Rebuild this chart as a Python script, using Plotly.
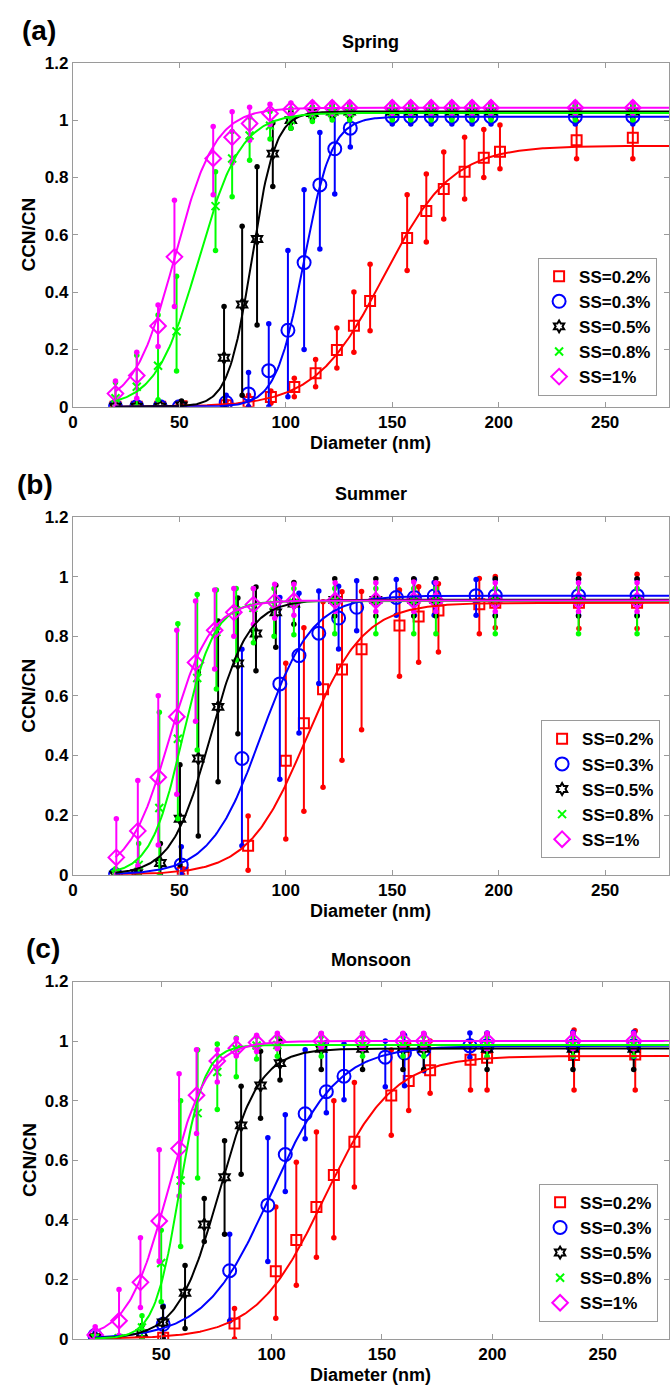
import numpy as np
import plotly.graph_objects as go

W, H = 670, 1391

# ---------------- Spring: diameter (nm), CCN/CN, error-bar low / high ----------------
SPR_D_02 = [20, 30, 41, 51, 72, 82.5, 93, 104, 114, 124, 132, 139.6, 157, 166, 174.2, 184, 193, 200.6, 236.6, 263]
SPR_F_02 = [0, 0, 0, 0.002, 0.005, 0.017, 0.034, 0.069, 0.117, 0.198, 0.283, 0.369, 0.589, 0.683, 0.76, 0.82, 0.869, 0.89, 0.93, 0.938]
SPR_LO_02 = [0, 0, 0, 0, 0, 0, 0.012, 0.035, 0.07, 0.135, 0.19, 0.265, 0.475, 0.575, 0.655, 0.725, 0.80, 0.83, 0.865, 0.865]
SPR_HI_02 = [0, 0, 0, 0.005, 0.02, 0.04, 0.055, 0.10, 0.165, 0.275, 0.40, 0.497, 0.74, 0.812, 0.889, 0.94, 0.967, 0.983, 0.995, 1.0]

SPR_D_03 = [20, 30, 41, 50, 72, 82.5, 92, 101, 108.6, 116, 123, 130.3, 150, 158.7, 168.3, 178, 187.5, 196.4, 236, 263]
SPR_F_03 = [0, 0, 0, 0, 0.015, 0.045, 0.126, 0.267, 0.503, 0.774, 0.9, 0.972, 1.012, 1.012, 1.012, 1.012, 1.012, 1.012, 1.012, 1.012]
SPR_LO_03 = [0, 0, 0, 0, 0, 0, 0, 0.035, 0.2, 0.55, 0.742, 0.906, 0.986, 0.986, 0.986, 0.986, 0.986, 0.986, 0.986, 0.986]
SPR_HI_03 = [0, 0, 0, 0, 0.04, 0.12, 0.29, 0.545, 0.757, 0.957, 1.026, 1.03, 1.036, 1.036, 1.036, 1.036, 1.036, 1.036, 1.036, 1.036]

SPR_D_05 = [20, 30, 41, 51, 71, 79.5, 86.5, 93.9, 102.4, 112.5, 121.8, 130, 150, 158.7, 168.3, 178, 187.5, 196.4, 236, 263]
SPR_F_05 = [0, 0, 0, 0.005, 0.171, 0.357, 0.585, 0.883, 1.0, 1.025, 1.03, 1.03, 1.03, 1.03, 1.03, 1.03, 1.03, 1.03, 1.03, 1.03]
SPR_LO_05 = [0, 0, 0, 0, 0, 0.04, 0.285, 0.768, 0.972, 1.0, 1.008, 1.008, 1.008, 1.008, 1.008, 1.008, 1.008, 1.008, 1.008, 1.008]
SPR_HI_05 = [0, 0, 0, 0.02, 0.35, 0.63, 0.837, 0.99, 1.03, 1.045, 1.05, 1.05, 1.05, 1.05, 1.05, 1.05, 1.05, 1.05, 1.05, 1.05]

SPR_D_08 = [20, 30, 40, 48.7, 67, 74.8, 83, 92.6, 102.4, 112.5, 121.8, 130, 150, 158.7, 168.3, 178, 187.5, 196.4, 236, 263]
SPR_F_08 = [0.03, 0.07, 0.143, 0.263, 0.70, 0.866, 0.946, 0.98, 1.0, 1.02, 1.025, 1.025, 1.025, 1.025, 1.025, 1.025, 1.025, 1.025, 1.025, 1.025]
SPR_LO_08 = [0, 0, 0.025, 0.125, 0.545, 0.733, 0.86, 0.934, 0.972, 0.995, 1.0, 1.0, 1.0, 1.0, 1.0, 1.0, 1.0, 1.0, 1.0, 1.0]
SPR_HI_08 = [0.085, 0.18, 0.32, 0.455, 0.82, 0.96, 1.01, 1.03, 1.04, 1.045, 1.05, 1.05, 1.05, 1.05, 1.05, 1.05, 1.05, 1.05, 1.05, 1.05]

SPR_D_10 = [20, 30, 40, 47.7, 65.9, 74.8, 83, 92.6, 102.4, 112.5, 121.8, 130, 150, 158.7, 168.3, 178, 187.5, 196.4, 236, 263]
SPR_F_10 = [0.046, 0.109, 0.282, 0.523, 0.866, 0.94, 0.988, 1.023, 1.037, 1.043, 1.043, 1.043, 1.043, 1.043, 1.043, 1.043, 1.043, 1.043, 1.043, 1.043]
SPR_LO_10 = [0, 0.03, 0.21, 0.35, 0.74, 0.85, 0.93, 0.985, 1.02, 1.026, 1.026, 1.026, 1.026, 1.026, 1.026, 1.026, 1.026, 1.026, 1.026, 1.026]
SPR_HI_10 = [0.09, 0.19, 0.355, 0.72, 0.978, 1.029, 1.045, 1.055, 1.06, 1.061, 1.061, 1.061, 1.061, 1.061, 1.061, 1.061, 1.061, 1.061, 1.061, 1.061]

# sigmoid fit: plateau, D50 (nm), width (nm) for SS = 0.2, 0.3, 0.5, 0.8, 1 %
SPR_PLATEAU = [0.91, 1.012, 1.03, 1.025, 1.043]
SPR_D50 = [146, 108.5, 84, 59, 47.8]
SPR_WIDTH = [16, 6.5, 5.5, 10, 9.5]

# ---------------- Summer ----------------
SUM_D_02 = [51.6, 82.3, 100, 108.5, 117.5, 126.4, 135.6, 153.4, 162.4, 171.7, 190.9, 198.4, 237.7, 265]
SUM_F_02 = [0.007, 0.097, 0.382, 0.508, 0.622, 0.688, 0.756, 0.836, 0.866, 0.886, 0.907, 0.912, 0.912, 0.912]
SUM_LO_02 = [0, 0.015, 0.12, 0.213, 0.293, 0.384, 0.486, 0.666, 0.713, 0.747, 0.808, 0.828, 0.826, 0.826]
SUM_HI_02 = [0.02, 0.197, 0.709, 0.828, 0.916, 0.949, 0.95, 0.955, 0.966, 0.976, 0.994, 1.0, 1.008, 1.008]

SUM_D_03 = [20, 50.9, 79.4, 97.2, 106.2, 115.5, 124.8, 133.3, 151.9, 160.4, 169.7, 189.4, 198.4, 237.5, 265]
SUM_F_03 = [0, 0.033, 0.39, 0.64, 0.735, 0.81, 0.861, 0.897, 0.93, 0.93, 0.935, 0.936, 0.936, 0.936, 0.936]
SUM_LO_03 = [0, 0, 0.097, 0.32, 0.475, 0.641, 0.757, 0.818, 0.87, 0.87, 0.87, 0.87, 0.87, 0.87, 0.87]
SUM_HI_03 = [0, 0.094, 0.756, 0.93, 0.944, 0.952, 0.968, 0.986, 0.99, 0.99, 0.98, 0.99, 0.99, 0.99, 0.99]

SUM_D_05 = [20, 30, 41.1, 50.3, 58.9, 68.2, 77.5, 86.0, 95.3, 103.8, 123, 142.3, 160.1, 170.5, 198.4, 237.5, 265]
SUM_F_05 = [0, 0.005, 0.039, 0.188, 0.39, 0.563, 0.709, 0.809, 0.88, 0.91, 0.922, 0.922, 0.922, 0.922, 0.922, 0.922, 0.922]
SUM_LO_05 = [0, 0, 0, 0.033, 0.13, 0.312, 0.473, 0.684, 0.763, 0.84, 0.868, 0.868, 0.868, 0.868, 0.868, 0.868, 0.868]
SUM_HI_05 = [0, 0.01, 0.105, 0.369, 0.68, 0.851, 0.928, 0.965, 0.971, 0.98, 0.993, 0.993, 0.993, 0.993, 0.993, 0.993, 0.993]

SUM_D_08 = [20, 30.9, 40.6, 49.3, 58.4, 67.4, 76.7, 84.8, 94.5, 103.8, 123, 142.3, 160.1, 170.5, 198.4, 237.5, 265]
SUM_F_08 = [0.002, 0.033, 0.224, 0.456, 0.66, 0.814, 0.886, 0.895, 0.905, 0.912, 0.918, 0.918, 0.918, 0.918, 0.918, 0.918, 0.918]
SUM_LO_08 = [0, 0, 0, 0.188, 0.418, 0.623, 0.72, 0.778, 0.80, 0.805, 0.808, 0.808, 0.808, 0.808, 0.808, 0.808, 0.808]
SUM_HI_08 = [0.02, 0.105, 0.545, 0.842, 0.94, 0.955, 0.96, 0.96, 0.96, 0.96, 0.96, 0.96, 0.96, 0.96, 0.96, 0.96, 0.96]

SUM_D_10 = [20.4, 30.5, 40.1, 48.8, 57.6, 66.6, 75.6, 84.8, 94.8, 103.8, 123.2, 142.3, 160.1, 170.5, 198.4, 237.5, 265]
SUM_F_10 = [0.058, 0.147, 0.327, 0.53, 0.712, 0.82, 0.88, 0.906, 0.916, 0.918, 0.92, 0.92, 0.92, 0.92, 0.92, 0.92, 0.92]
SUM_LO_10 = [0, 0.03, 0.10, 0.27, 0.515, 0.69, 0.80, 0.84, 0.86, 0.87, 0.883, 0.883, 0.883, 0.883, 0.883, 0.883, 0.883]
SUM_HI_10 = [0.188, 0.316, 0.60, 0.82, 0.918, 0.955, 0.96, 0.96, 0.974, 0.974, 0.979, 0.979, 0.982, 0.979, 0.979, 0.979, 0.979]

SUM_PLATEAU = [0.912, 0.936, 0.922, 0.918, 0.92]
SUM_D50 = [109.5, 88.5, 64.5, 51.5, 45.5]
SUM_WIDTH = [13.5, 12, 9, 7.5, 9.5]

# ---------------- Monsoon ----------------
MON_D_02 = [20, 50.9, 83.2, 101.9, 111.2, 120.3, 128.2, 137.5, 154.2, 162.1, 171.8, 190.1, 197.6, 237, 264.7]
MON_F_02 = [0, 0.004, 0.052, 0.227, 0.332, 0.443, 0.55, 0.662, 0.817, 0.866, 0.902, 0.937, 0.944, 0.953, 0.955]
MON_LO_02 = [0, 0, 0, 0.069, 0.18, 0.274, 0.34, 0.51, 0.684, 0.767, 0.825, 0.836, 0.836, 0.836, 0.836]
MON_HI_02 = [0, 0.01, 0.102, 0.443, 0.593, 0.695, 0.80, 0.861, 0.97, 0.99, 1.0, 1.0, 1.0, 1.037, 1.035]

MON_D_03 = [20, 50.9, 81, 98.3, 106.2, 115.2, 124.8, 132.8, 151.5, 160.2, 168.9, 189.8, 197.6, 236.5, 264]
MON_F_03 = [0.011, 0.049, 0.229, 0.449, 0.619, 0.756, 0.83, 0.882, 0.946, 0.96, 0.97, 0.984, 0.984, 0.984, 0.984]
MON_LO_03 = [0, 0, 0.06, 0.26, 0.495, 0.672, 0.759, 0.803, 0.847, 0.85, 0.9, 0.946, 0.946, 0.946, 0.946]
MON_HI_03 = [0.02, 0.11, 0.351, 0.675, 0.753, 0.971, 0.995, 0.99, 1.0, 1.02, 1.02, 1.027, 1.027, 1.03, 1.03]

MON_D_05 = [20, 41.3, 50.8, 60.8, 69.5, 78.7, 86.2, 95.0, 103.8, 122.5, 141.2, 159.5, 168.9, 197.6, 236.5, 264]
MON_F_05 = [0.005, 0.019, 0.055, 0.155, 0.384, 0.543, 0.717, 0.851, 0.926, 0.974, 0.974, 0.974, 0.974, 0.974, 0.974, 0.974]
MON_LO_05 = [0, 0, 0, 0.035, 0.327, 0.351, 0.553, 0.741, 0.869, 0.905, 0.905, 0.905, 0.905, 0.905, 0.905, 0.905]
MON_HI_05 = [0.01, 0.045, 0.107, 0.246, 0.471, 0.665, 0.848, 0.966, 1.0, 1.025, 1.025, 1.025, 1.025, 1.025, 1.025, 1.025]

MON_D_08 = [20, 30.7, 41.3, 50, 58.8, 66.5, 75.4, 84, 93.2, 102.6, 122.5, 141.2, 159.5, 168.9, 197.6, 236.5, 264]
MON_F_08 = [0.003, 0.002, 0.038, 0.255, 0.532, 0.758, 0.896, 0.974, 0.985, 0.987, 0.987, 0.987, 0.987, 0.987, 0.987, 0.987, 0.987]
MON_LO_08 = [0, 0, 0, 0.125, 0.31, 0.54, 0.77, 0.88, 0.94, 0.949, 0.949, 0.949, 0.949, 0.949, 0.949, 0.949, 0.949]
MON_HI_08 = [0.01, 0.01, 0.078, 0.365, 0.80, 0.97, 0.99, 1.01, 1.015, 1.015, 1.015, 1.015, 1.015, 1.015, 1.015, 1.015, 1.015]

MON_D_10 = [20.1, 30.9, 40.6, 49.1, 58.1, 66, 75.4, 84, 93.2, 102.6, 122.5, 141.2, 159.5, 168.9, 197.6, 236.5, 264]
MON_F_10 = [0.013, 0.061, 0.19, 0.396, 0.639, 0.818, 0.933, 0.976, 0.995, 1.0, 1.0, 1.0, 1.0, 1.0, 1.0, 1.0, 1.0]
MON_LO_10 = [0, 0.011, 0.105, 0.26, 0.48, 0.69, 0.863, 0.95, 0.965, 0.974, 0.974, 0.974, 0.974, 0.974, 0.974, 0.974, 0.974]
MON_HI_10 = [0.041, 0.166, 0.34, 0.635, 0.89, 0.971, 0.971, 1.008, 1.02, 1.026, 1.026, 1.026, 1.026, 1.026, 1.026, 1.026, 1.026]

MON_PLATEAU = [0.95, 0.984, 0.975, 0.987, 1.0]
MON_D50 = [124, 100, 76, 58.2, 53]
MON_WIDTH = [15.5, 15, 9.3, 5.6, 9]

SS_LABELS = ["SS=0.2%", "SS=0.3%", "SS=0.5%", "SS=0.8%", "SS=1%"]
Y_TICKS = [0, 0.2, 0.4, 0.6, 0.8, 1.0, 1.2]
Y_TICKTEXT = ["0", "0.2", "0.4", "0.6", "0.8", "1", "1.2"]
X_TICKS = [0, 50, 100, 150, 200, 250]

# ---------------- styling ----------------
COLORS = ["#ff0000", "#0000ff", "#000000", "#00ff00", "#ff00ff"]
SYMBOLS = ["square-open", "circle-open", "hexagram-open", "x-thin-open", "diamond-open"]
SIZES = [10, 13, 9, 8, 12]
FONT = "Liberation Sans"
AXIS_GRAY = "#9a9a9a"


def px_x(px):
    return px / W


def px_y(py):
    return 1 - py / H


panels = [
    dict(
        series=[(SPR_D_02, SPR_F_02, SPR_LO_02, SPR_HI_02),
                (SPR_D_03, SPR_F_03, SPR_LO_03, SPR_HI_03),
                (SPR_D_05, SPR_F_05, SPR_LO_05, SPR_HI_05),
                (SPR_D_08, SPR_F_08, SPR_LO_08, SPR_HI_08),
                (SPR_D_10, SPR_F_10, SPR_LO_10, SPR_HI_10)],
        fit=(SPR_PLATEAU, SPR_D50, SPR_WIDTH),
        title="Spring", letter="(a)", xrange=[0, 280],
        top=54.5, bottom=403.3, legend_right=657, legend_bottom=392,
        letter_xy=(34, 22), title_y=33,
    ),
    dict(
        series=[(SUM_D_02, SUM_F_02, SUM_LO_02, SUM_HI_02),
                (SUM_D_03, SUM_F_03, SUM_LO_03, SUM_HI_03),
                (SUM_D_05, SUM_F_05, SUM_LO_05, SUM_HI_05),
                (SUM_D_08, SUM_F_08, SUM_LO_08, SUM_HI_08),
                (SUM_D_10, SUM_F_10, SUM_LO_10, SUM_HI_10)],
        fit=(SUM_PLATEAU, SUM_D50, SUM_WIDTH),
        title="Summer", letter="(b)", xrange=[0, 280],
        top=515, bottom=877.7, legend_right=660, legend_bottom=861,
        letter_xy=(30, 482), title_y=492,
    ),
    dict(
        series=[(MON_D_02, MON_F_02, MON_LO_02, MON_HI_02),
                (MON_D_03, MON_F_03, MON_LO_03, MON_HI_03),
                (MON_D_05, MON_F_05, MON_LO_05, MON_HI_05),
                (MON_D_08, MON_F_08, MON_LO_08, MON_HI_08),
                (MON_D_10, MON_F_10, MON_LO_10, MON_HI_10)],
        fit=(MON_PLATEAU, MON_D50, MON_WIDTH),
        title="Monsoon", letter="(c)", xrange=[10, 280],
        top=986, bottom=1348.3, legend_right=658, legend_bottom=1331,
        letter_xy=(38, 953), title_y=964,
    ),
]

PLOT_LEFT, PLOT_RIGHT = 68.4, 669

fig = go.Figure()
layout_axes = {}
annotations = []
legends = {}

for i, p in enumerate(panels):
    n = "" if i == 0 else str(i + 1)
    xa, ya = "x" + n, "y" + n
    leg = "legend" + n

    # measured points with error bars
    for k, (d, f, lo, hi) in enumerate(p["series"]):
        d, f, lo, hi = map(np.asarray, (d, f, lo, hi))
        fig.add_trace(go.Scatter(
            x=d, y=f, mode="markers", name=SS_LABELS[k],
            marker=dict(symbol=SYMBOLS[k], size=SIZES[k], color=COLORS[k],
                        line=dict(color=COLORS[k], width=2)),
            error_y=dict(type="data", symmetric=False, array=hi - f, arrayminus=f - lo,
                         color=COLORS[k], thickness=2, width=0),
            xaxis=xa, yaxis=ya, legend=leg,
        ))
        has_bar = (hi - lo) > 0
        fig.add_trace(go.Scatter(
            x=np.concatenate([d[has_bar], d[has_bar]]),
            y=np.concatenate([lo[has_bar], hi[has_bar]]),
            mode="markers", marker=dict(symbol="circle", size=5.5, color=COLORS[k]),
            showlegend=False, hoverinfo="skip", xaxis=xa, yaxis=ya,
        ))

    # sigmoid fits
    plateau, d50, width = p["fit"]
    dd = np.linspace(20, 280, 400)
    for k in range(5):
        fig.add_trace(go.Scatter(
            x=dd, y=plateau[k] / (1 + np.exp(-(dd - d50[k]) / width[k])),
            mode="lines", line=dict(color=COLORS[k], width=2),
            showlegend=False, hoverinfo="skip", xaxis=xa, yaxis=ya,
        ))

    dom_y = [px_y(p["bottom"]), px_y(p["top"])]
    common = dict(showline=True, linecolor=AXIS_GRAY, linewidth=1, mirror="ticks",
                  ticks="inside", ticklen=5, tickcolor=AXIS_GRAY, showgrid=False,
                  zeroline=False,
                  tickfont=dict(family=FONT, size=17, color="black", weight="bold"))
    layout_axes["xaxis" + n] = dict(common, domain=[px_x(PLOT_LEFT), px_x(PLOT_RIGHT)],
                                    range=p["xrange"], tickvals=X_TICKS, anchor=ya)
    layout_axes["yaxis" + n] = dict(common, domain=dom_y, range=[0, 1.2],
                                    tickvals=Y_TICKS, ticktext=Y_TICKTEXT, anchor=xa)

    legends[leg] = dict(
        x=px_x(p["legend_right"]), xanchor="right",
        y=px_y(p["legend_bottom"]), yanchor="bottom",
        bgcolor="white", bordercolor=AXIS_GRAY, borderwidth=1,
        font=dict(family=FONT, size=17, color="black", weight="bold"),
        tracegroupgap=0,
    )

    cx = (PLOT_LEFT + PLOT_RIGHT) / 2
    annotations += [
        dict(text=p["letter"], x=px_x(p["letter_xy"][0]), y=px_y(p["letter_xy"][1]),
             font=dict(family=FONT, size=28, color="black", weight="bold")),
        dict(text=p["title"], x=px_x(cx), y=px_y(p["title_y"]),
             font=dict(family=FONT, size=18, color="black", weight="bold")),
        dict(text="CCN/CN", x=px_x(24), y=px_y((p["top"] + p["bottom"]) / 2), textangle=-90,
             font=dict(family=FONT, size=19, color="black", weight="bold")),
        dict(text="Diameter (nm)", x=px_x(cx), y=px_y(p["bottom"] + 36.5),
             font=dict(family=FONT, size=18, color="black", weight="bold")),
    ]

for a in annotations:
    a.update(xref="paper", yref="paper", showarrow=False, xanchor="center", yanchor="middle")

fig.update_layout(
    width=W, height=H, margin=dict(l=0, r=0, t=0, b=0),
    paper_bgcolor="white", plot_bgcolor="white",
    annotations=annotations, showlegend=True,
    **layout_axes, **legends,
)

fig.write_html("out.html")
